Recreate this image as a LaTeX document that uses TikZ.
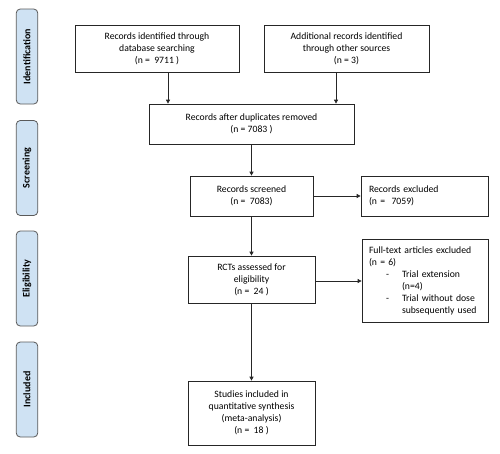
\documentclass[tikz,border=0pt]{standalone}
\usepackage{fontspec}
\setmainfont{Carlito}
\usetikzlibrary{arrows.meta}
\definecolor{sidefill}{RGB}{207,226,243}
\definecolor{sideline}{RGB}{90,90,90}
\begin{document}
\begin{tikzpicture}[x=1pt,y=-1pt,
  box/.style={draw=black!85, line width=0.7pt, fill=white, inner sep=0pt, align=center,
    font=\fontsize{9.7}{12}\selectfont},
  leftbox/.style={box, align=left},
  side/.style={draw=sideline, line width=0.8pt, fill=sidefill, rounded corners=4pt,
    rotate=90, inner sep=0pt, minimum width=95pt, minimum height=21.5pt,
    font=\fontsize{10}{11}\selectfont\bfseries},
  arr/.style={draw=black!85, line width=0.7pt, -{Triangle[length=4pt,width=4pt]}}]
\useasboundingbox (0,0) rectangle (500,453);

\node[side] (s1) at (27,56.5) {Identification};
\node[side] (s2) at (27,168) {Screening};
\node[side] (s3) at (27,278.5) {Eligibility};
\node[side] (s4) at (27,389.5) {Included};

\node[box, minimum width=164pt, minimum height=47pt] (b1) at (157,48.5)
  {Records identified through\\database searching\\(n =\ \ 9711 )};
\node[box, minimum width=165pt, minimum height=47pt] (b2) at (346.5,48.5)
  {Additional records identified\\through other sources\\(n = 3)};
\node[box, minimum width=205pt, minimum height=40pt] (b3) at (251.5,124)
  {Records after duplicates removed\\(n = 7083 )};
\node[box, minimum width=123pt, minimum height=40pt] (b4) at (251.5,196)
  {Records screened\\(n =\ \ 7083)};
\node[leftbox, minimum width=127pt, minimum height=40pt, text width=111pt] (ex) at (424.5,196)
  {Records excluded\\(n =\ \ 7059)};
\node[box, minimum width=127pt, minimum height=47pt] (rct) at (251.5,279.5)
  {RCTs assessed for\\eligibility\\(n =\ \ 24 )};
\node[leftbox, minimum width=126pt, minimum height=83pt, text width=112pt] (ft) at (425,280.5)
  {Full-text articles excluded\\(n = 6)\\
   \makebox[33pt][l]{\hspace*{17pt}-}Trial extension\\
   \hspace*{33pt}(n=4)\\
   \makebox[33pt][l]{\hspace*{17pt}-}Trial without dose\\
   \hspace*{33pt}subsequently used};
\node[box, minimum width=127pt, minimum height=64pt] (fin) at (251.5,413)
  {Studies included in\\quantitative synthesis\\(meta-analysis)\\(n =\ \ 18 )};

\draw[arr] ([xshift=11pt]b1.south) -- ([xshift=11pt]b1.south |- b3.north);
\draw[arr] ([xshift=-10.5pt]b2.south) -- ([xshift=-10.5pt]b2.south |- b3.north);
\draw[arr] (b3) -- (b4);
\draw[arr] (b4) -- (ex);
\draw[arr] (b4) -- (rct);
\draw[arr] ([yshift=-1.5pt]rct.east) -- ([yshift=-1.5pt]rct.east -| ft.west);
\draw[arr] (rct) -- (fin);
\end{tikzpicture}
\end{document}
